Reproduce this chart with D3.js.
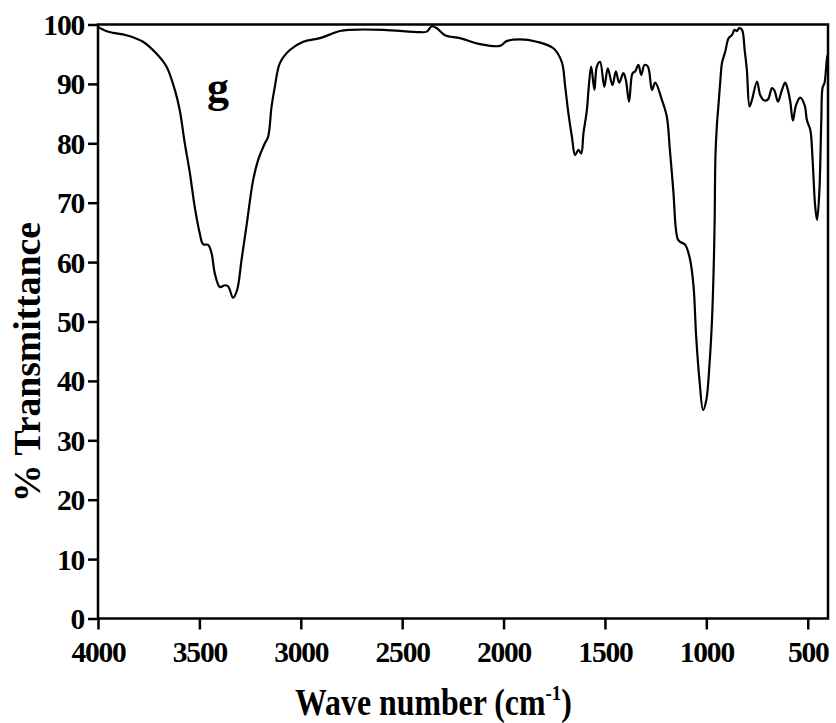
<!DOCTYPE html>
<html>
<head>
<meta charset="utf-8">
<script src="https://cdn.jsdelivr.net/npm/d3@7/dist/d3.min.js"></script>
<style>
  body { margin: 0; background: #fff; }
  svg { display: block; }
  text { font-family: "Liberation Serif", "Times New Roman", serif; font-weight: bold; fill: #000; }
</style>
</head>
<body>
<div id="chart"></div>
<script>
// wave number (cm-1)
const waveNumbers = [4000, 3960, 3926, 3860, 3778, 3712, 3662, 3621, 3597, 3572, 3547, 3523, 3498, 3482, 3457, 3440, 3424, 3399, 3375, 3358, 3334, 3314, 3292, 3268, 3235, 3210, 3177, 3161, 3144, 3128, 3103, 3054, 2988, 2906, 2807, 2758, 2593, 2412, 2379, 2354, 2330, 2289, 2215, 2116, 2018, 1985, 1919, 1836, 1754, 1713, 1696, 1680, 1663, 1647, 1631, 1617, 1606, 1589, 1581, 1568, 1552, 1540, 1524, 1503, 1486, 1463, 1446, 1430, 1409, 1397, 1381, 1364, 1351, 1335, 1321, 1305, 1288, 1268, 1252, 1219, 1195, 1180, 1170, 1162, 1150, 1140, 1129, 1104, 1080, 1063, 1050, 1034, 1016, 1000, 984, 972, 964, 959, 955, 948, 940, 930, 923, 907, 890, 874, 861, 849, 838, 824, 811, 800, 787, 775, 750, 734, 713, 696, 676, 663, 647, 627, 611, 598, 586, 573, 558, 537, 515, 504, 487, 476, 463, 454, 443, 433, 427, 417, 405, 400];
// % transmittance
const transmittance = [99.6, 98.9, 98.6, 98.2, 97.1, 95.1, 92.9, 89, 85.6, 80, 75, 69.3, 64.8, 63, 62.9, 61.5, 58.1, 55.8, 56.1, 55.9, 54.0, 55.3, 60.4, 66, 73.8, 77.2, 80, 81.1, 86.2, 89.5, 93.5, 95.7, 97.1, 97.7, 98.9, 99.1, 99.1, 98.7, 98.8, 99.7, 99.4, 98.2, 97.7, 96.7, 96.4, 97.2, 97.5, 97.1, 96, 93.7, 89.5, 85, 81.1, 78, 78.9, 78.3, 81.7, 85.6, 89, 92.9, 89, 92.9, 93.7, 89.5, 92.6, 89.8, 92.1, 90.2, 91.8, 90.7, 87, 91.8, 92.1, 93.2, 91.5, 93.2, 92.9, 89, 90.2, 87.3, 84.5, 79, 75, 71.6, 65.5, 63.8, 63.4, 62.9, 60.4, 55.9, 47.4, 40.2, 35.1, 36.8, 43, 50.3, 58.7, 67, 78, 83, 86.5, 91, 93.5, 95.4, 97.7, 98.2, 99.1, 98.9, 99.4, 99.1, 95.7, 92.3, 86.2, 87.3, 90.4, 88.1, 87.2, 87.4, 89.3, 88.8, 87, 89, 90.2, 89, 87, 83.8, 86.4, 87.7, 86.4, 83.9, 82.2, 77.2, 69.3, 67.1, 71.6, 83.9, 89.3, 90.2, 94.3, 95];

const xTicks = [4000, 3500, 3000, 2500, 2000, 1500, 1000, 500];
const yTicks = [0, 10, 20, 30, 40, 50, 60, 70, 80, 90, 100];
const sampleLabel = "g";

const width = 836, height = 723;
const margin = {left: 98, right: 8, top: 24.5, bottom: 104.5};

const svg = d3.select("#chart").append("svg")
    .attr("width", width)
    .attr("height", height);

const x = d3.scaleLinear().domain([4000, 400]).range([margin.left, width - margin.right]);
const y = d3.scaleLinear().domain([0, 100]).range([height - margin.bottom, margin.top]);

const data = waveNumbers.map((w, i) => ({w: w, t: transmittance[i]}));

// spectrum
const line = d3.line()
    .x(d => x(d.w))
    .y(d => y(d.t))
    .curve(d3.curveCatmullRom.alpha(0.5));

svg.append("path")
    .datum(data)
    .attr("fill", "none")
    .attr("stroke", "#000")
    .attr("stroke-width", 2.2)
    .attr("stroke-linejoin", "round")
    .attr("d", line);

// frame
svg.append("rect")
    .attr("x", x(4000))
    .attr("y", y(100))
    .attr("width", x(400) - x(4000))
    .attr("height", y(0) - y(100))
    .attr("fill", "none")
    .attr("stroke", "#000")
    .attr("stroke-width", 2.5);

// axes
const xAxis = svg.append("g")
    .attr("transform", `translate(0,${y(0)})`)
    .call(d3.axisBottom(x).tickValues(xTicks).tickSize(11).tickPadding(12).tickFormat(d3.format("d")));

const yAxis = svg.append("g")
    .attr("transform", `translate(${x(4000)},0)`)
    .call(d3.axisLeft(y).tickValues(yTicks).tickSize(10).tickPadding(4).tickFormat(d3.format("d")));

[xAxis, yAxis].forEach(g => {
    g.select(".domain").remove();
    g.selectAll(".tick line").attr("stroke", "#000").attr("stroke-width", 2.5);
    g.selectAll(".tick text")
        .attr("font-family", null)
        .attr("font-size", 29.5)
        .style("letter-spacing", "-1.2px")
        .attr("fill", "#000");
});
xAxis.selectAll(".tick text").attr("dy", "0.71em");
yAxis.selectAll(".tick text").attr("dy", "0.34em");

// x title (lettering in the original is condensed, so squeeze it to its width)
const xTitle = svg.append("text")
    .attr("font-size", 37)
    .attr("text-anchor", "start");
xTitle.append("tspan").text("Wave number (cm");
xTitle.append("tspan").attr("font-size", 22).attr("dy", -15).text("-1");
xTitle.append("tspan").attr("dy", 15).text(")");
const xw = xTitle.node().getBBox().width;
xTitle.attr("transform", `translate(295,715) scale(${277 / xw},1)`);

// y title
const yTitle = svg.append("text")
    .attr("font-size", 38)
    .attr("text-anchor", "middle")
    .text("% Transmittance");
const yw = yTitle.node().getBBox().width;
yTitle.attr("transform", `translate(40,362) rotate(-90) scale(${280 / yw},1)`);

// sample label
svg.append("text")
    .attr("x", 218)
    .attr("y", 102)
    .attr("font-size", 44)
    .attr("text-anchor", "middle")
    .text(sampleLabel);
</script>
</body>
</html>
